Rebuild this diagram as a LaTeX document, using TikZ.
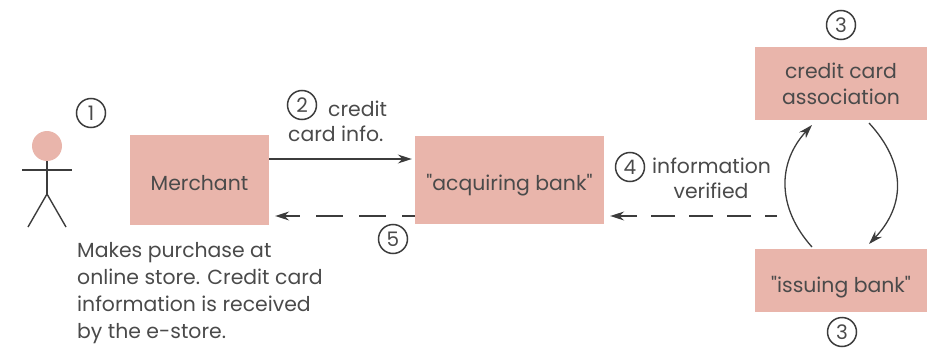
\documentclass[tikz,border=0pt]{standalone}
\usepackage{fontspec}
\newfontfamily\popfont{Poppins}
\usetikzlibrary{arrows.meta}
\definecolor{boxpink}{HTML}{E9B5AB}
\definecolor{ink}{HTML}{4A4A4A}
\definecolor{linec}{HTML}{3C3C3C}
\tikzset{
  x=1pt,y=-1pt,
  txt/.style={text=ink,font=\popfont\fontsize{20.4}{27}\selectfont,inner sep=0pt,align=center},
  bank/.style={fill=boxpink,draw=none,inner sep=0pt,text=ink,font=\popfont\fontsize{20.4}{26}\selectfont,align=center},
  numc/.style={circle,draw=linec,line width=1.5pt,minimum size=29pt,inner sep=0pt,text=ink,font=\popfont\fontsize{20}{20}\selectfont},
  conn/.style={draw=linec,line width=1.3pt,-{Stealth[length=14pt,width=9pt]}},
  dconn5/.style={conn,dash pattern=on 27pt off 16pt,dash phase=14pt},
  dconn4/.style={conn,dash pattern=on 24pt off 14pt,dash phase=12pt},
  stick/.style={draw=linec,line width=1.4pt}
}
\begin{document}
\begin{tikzpicture}
\useasboundingbox (0,0) rectangle (935,348);
% boxes
\node[bank,minimum width=139pt,minimum height=90pt] (merchant) at (199.5,180) {\raisebox{-10pt}[0pt][0pt]{Merchant}};
\node[bank,minimum width=189pt,minimum height=88pt] (acq) at (509.5,180) {\raisebox{-10pt}[0pt][0pt]{"acquiring bank"}};
\node[bank,minimum width=172pt,minimum height=73pt] (assoc) at (841,83.5) {credit card\\association};
\node[bank,minimum width=172pt,minimum height=63pt] (issue) at (841,280.5) {\raisebox{-11.5pt}[0pt][0pt]{"issuing bank"}};
% person
\node[circle,fill=boxpink,minimum size=30pt,inner sep=0pt] (head) at (47,146) {};
\coordinate (hip) at (47,194);
\coordinate (armL) at (22,170);
\coordinate (armR) at (72,170);
\coordinate (footL) at (28,227);
\coordinate (footR) at (66,227);
\draw[stick] (head.south) -- (hip);
\draw[stick] (armL) -- (armR);
\draw[stick] (footL) -- (hip) -- (footR);
% numbers
\node[numc] (n1) at (91,113) {1};
\node[numc] (n2) at (302,105) {2};
\node[numc] (n5) at (393,239) {5};
\node[numc] (n4) at (630,167) {4};
\node[numc] (n3a) at (841,25) {3};
\node[numc] (n3b) at (842,332) {3};
% labels
\node[txt,anchor=west] (l2a) at (328,109) {credit};
\node[txt,anchor=west] (l2b) at (288,133.5) {card info.};
\node[txt,anchor=west] (l4a) at (652,166) {information};
\node[txt] (l4b) at (711,191) {verified};
\node[txt,anchor=north west,align=left] (desc) at (77,242) {Makes purchase at\\online store. Credit card\\information is received\\by the e-store.};
% connectors
\coordinate (m2) at (merchant.east |- 0,159);
\coordinate (a2) at ([xshift=-3pt]acq.west |- 0,159);
\draw[conn] (m2) -- (a2);
\coordinate (a5) at (acq.west |- 0,216);
\coordinate (m5) at ([xshift=6pt]merchant.east |- 0,216);
\draw[dconn5] (a5) -- (m5);
\coordinate (v4) at (777,216);
\coordinate (a4) at ([xshift=6pt]acq.east |- 0,216);
\draw[dconn4] (v4) -- (a4);
\coordinate (iu) at (812,247);
\coordinate (au) at (812,125);
\coordinate (ad) at (869,123);
\coordinate (id) at (869,244);
\draw[conn] (iu) .. controls (777,208) and (777,163) .. (au);
\draw[conn] (ad) .. controls (906,163) and (906,205) .. (id);
\end{tikzpicture}
\end{document}
